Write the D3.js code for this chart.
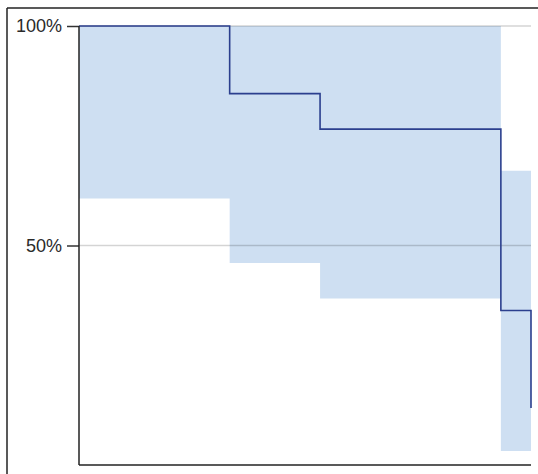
<!DOCTYPE html>
<html>
<head>
<meta charset="utf-8">
<script src="https://cdn.jsdelivr.net/npm/d3@7"></script>
<style>
  html, body { margin: 0; padding: 0; background: #fff; }
  svg { display: block; }
</style>
</head>
<body>
<svg id="chart" width="538" height="474"></svg>
<script>
// Step start times (last entry = end of follow-up)
const times = [0, 10, 16, 28, 30];
// Survival estimate for each step
const survival = [1.0, 0.846, 0.765, 0.352];
// Confidence band for each step
const lower = [0.607, 0.46, 0.379, 0.032];
const upper = [1.0, 1.0, 1.0, 0.670];
// Final drop at end of follow-up
const finalValue = 0.13;
// Y tick values and labels
const yTicks = [0.5, 1.0];
const yTickLabels = ["50%", "100%"];

const svg = d3.select("#chart");
const x = d3.scaleLinear().domain([0, 30]).range([79, 531]);
const y = d3.scaleLinear().domain([0, 1]).range([465, 26]);

// outer frame (top and left)
svg.append("line").attr("x1", 7).attr("x2", 538).attr("y1", 8).attr("y2", 8)
  .attr("stroke", "#222").attr("stroke-width", 1.5);
svg.append("line").attr("x1", 7).attr("x2", 7).attr("y1", 8).attr("y2", 474)
  .attr("stroke", "#222").attr("stroke-width", 1.5);

// confidence band as a single stepped area
const bandPts = survival.map((s, i) => ({ t: times[i], lo: lower[i], hi: upper[i] }));
bandPts.push({ t: times[times.length - 1], lo: lower[lower.length - 1], hi: upper[upper.length - 1] });
const area = d3.area()
  .x(d => x(d.t)).y0(d => y(d.lo)).y1(d => y(d.hi))
  .curve(d3.curveStepAfter);
svg.append("path").datum(bandPts).attr("d", area).attr("fill", "#cedff2");

// gridlines
svg.append("g").selectAll("line").data(yTicks).join("line")
  .attr("x1", x(0)).attr("x2", x(30))
  .attr("y1", d => y(d)).attr("y2", d => y(d))
  .attr("stroke", "rgba(0,0,0,0.17)").attr("stroke-width", 1.5);

// survival step line
const pts = survival.map((s, i) => [times[i], s]);
pts.push([times[times.length - 1], survival[survival.length - 1]]);
pts.push([times[times.length - 1], finalValue]);
const line = d3.line().x(d => x(d[0])).y(d => y(d[1])).curve(d3.curveStepAfter);
svg.append("path").datum(pts).attr("d", line)
  .attr("fill", "none").attr("stroke", "#2b3f8e").attr("stroke-width", 1.6);

// y axis
const yAxis = d3.axisLeft(y).tickValues(yTicks)
  .tickFormat((d, i) => yTickLabels[i]).tickSize(12).tickPadding(5);
const gy = svg.append("g").attr("transform", `translate(${x(0)},0)`).call(yAxis);
gy.select(".domain").remove();
gy.selectAll(".tick line").attr("stroke", "#333").attr("stroke-width", 1.5);
gy.selectAll(".tick text").attr("font-family", "Liberation Sans, Arial, sans-serif")
  .attr("font-size", 18).attr("fill", "#2a2a2a");

// axis lines
svg.append("line").attr("x1", x(0)).attr("x2", x(0)).attr("y1", y(1)).attr("y2", y(0))
  .attr("stroke", "#222").attr("stroke-width", 1.5);
svg.append("line").attr("x1", x(0)).attr("x2", x(30)).attr("y1", y(0)).attr("y2", y(0))
  .attr("stroke", "#222").attr("stroke-width", 1.5);
</script>
</body>
</html>
